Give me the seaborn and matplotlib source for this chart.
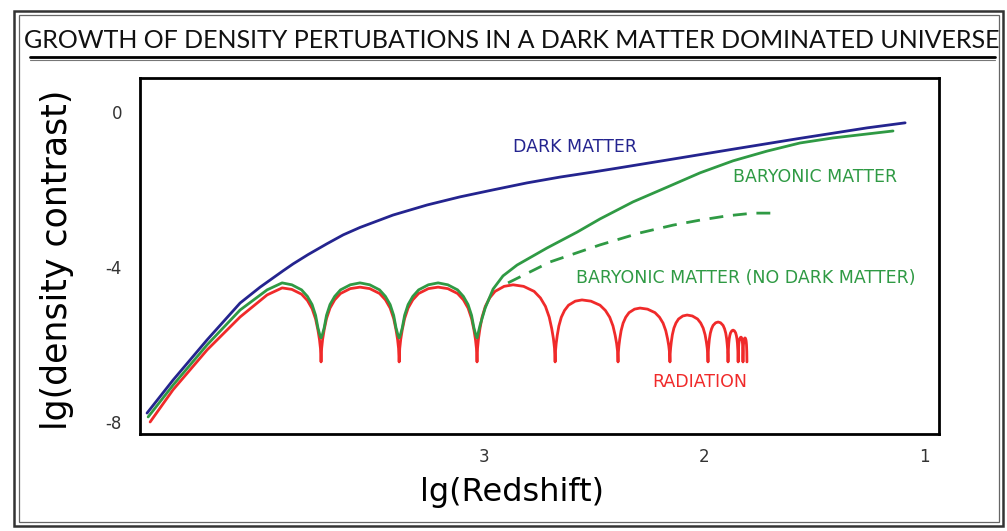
import matplotlib
matplotlib.use("Agg")
import matplotlib.pyplot as plt
import seaborn as sns
from matplotlib.patches import Rectangle
from matplotlib.lines import Line2D

# ---------------- data (x = lg z, y = lg density contrast) -------------
dm_x = [4.532, 4.414, 4.259, 4.109, 4.018, 3.914, 3.868, 3.800, 3.714, 3.640, 3.564, 3.414,
        3.259, 3.109, 2.959, 2.805, 2.655, 2.505, 2.395, 2.168, 1.868, 1.564, 1.259, 1.086]
dm_y = [-7.77, -6.92, -5.88, -4.93, -4.52, -4.10, -3.92, -3.68, -3.40, -3.17, -2.98, -2.66,
        -2.40, -2.19, -2.01, -1.83, -1.68, -1.55, -1.45, -1.24, -0.96, -0.68, -0.41, -0.28]

# radiation: rising branch, then oscillation peaks and cusps
rad_rise_x = [4.518, 4.414, 4.259, 4.109, 3.986]
rad_rise_y = [-8.00, -7.17, -6.14, -5.29, -4.72]
rad_peak_x = [3.918, 3.564, 3.209, 2.868, 2.555, 2.291, 2.077, 1.936, 1.868, 1.832, 1.814]
rad_peak_y = [-4.54, -4.52, -4.52, -4.46, -4.85, -5.06, -5.24, -5.42, -5.63, -5.81, -5.83]
rad_cusp_x = [3.741, 3.386, 3.032, 2.677, 2.391, 2.155, 1.982, 1.891, 1.845, 1.823, 1.805]
rad_cusp_y = -6.45
# arch profile read from the first arch (fraction of half width -> fraction of depth)
rad_arch_f = [0, 0.25, 0.5, 0.65, 0.77, 0.86, 0.92, 0.96, 0.985, 1.0]
rad_arch_d = [0, 0.02, 0.085, 0.17, 0.28, 0.42, 0.57, 0.70, 0.82, 1.0]

# baryonic matter (with dark matter)
bar_rise_x = [4.527, 4.414, 4.259, 4.109, 3.986]
bar_rise_y = [-7.87, -7.05, -6.01, -5.11, -4.59]
bar_peak_x = [3.918, 3.564, 3.209]
bar_peak_y = [-4.41, -4.41, -4.41]
bar_cusp_x = [3.741, 3.386, 3.032]
bar_cusp_y = -5.83
bar_arch_f = [0, 0.25, 0.5, 0.65, 0.77, 0.86, 0.92, 0.97, 1.0]
bar_arch_d = [0, 0.035, 0.127, 0.246, 0.394, 0.59, 0.817, 0.95, 1.0]
bar_tail_x = [3.018, 2.995, 2.959, 2.914, 2.850, 2.714, 2.577, 2.473, 2.323, 2.168, 2.018,
              1.868, 1.714, 1.564, 1.414, 1.141]
bar_tail_y = [-5.50, -5.06, -4.57, -4.23, -3.95, -3.51, -3.10, -2.76, -2.32, -1.94, -1.57,
              -1.26, -1.01, -0.80, -0.67, -0.49]

# baryonic matter without dark matter (dashed)
nodm_x = [2.891, 2.700, 2.473, 2.291, 2.141, 2.018, 1.895, 1.777, 1.677]
nodm_y = [-4.41, -3.87, -3.43, -3.12, -2.92, -2.79, -2.68, -2.61, -2.61]

x_ticks = [3, 2, 1]
x_ticklabels = ["3", "2", "1"]
y_ticks = [0, -4, -8]
y_ticklabels = ["0", "-4", "-8"]

title = "GROWTH OF DENSITY PERTUBATIONS IN A DARK MATTER DOMINATED UNIVERSE"


def arch_chain(rise_x, rise_y, peaks_x, peaks_y, cusps_x, cusp_y, f, d):
    xs, ys = list(rise_x), list(rise_y)
    for i, (pkx, pky) in enumerate(zip(peaks_x, peaks_y)):
        if i > 0:
            cx = cusps_x[i - 1]
            for fi, di in list(zip(f, d))[::-1][1:]:
                xs.append(pkx + (cx - pkx) * fi)
                ys.append(pky - (pky - cusp_y) * di)
        cx = cusps_x[i]
        for fi, di in zip(f, d):
            xs.append(pkx + (cx - pkx) * fi)
            ys.append(pky - (pky - cusp_y) * di)
    return xs, ys


rad_x, rad_y = arch_chain(rad_rise_x, rad_rise_y, rad_peak_x, rad_peak_y,
                          rad_cusp_x, rad_cusp_y, rad_arch_f, rad_arch_d)
bar_x, bar_y = arch_chain(bar_rise_x, bar_rise_y, bar_peak_x, bar_peak_y,
                          bar_cusp_x, bar_cusp_y, bar_arch_f, bar_arch_d)
bar_x += bar_tail_x
bar_y += bar_tail_y

# ---------------- style ----------------
sns.set_theme(style="white")
plt.rcParams["font.family"] = ["DejaVu Sans"]

BLUE = "#24248f"
GREEN = "#2f9a44"
RED = "#f02a2a"

W, H = 1007, 531
fig = plt.figure(figsize=(W / 100, H / 100), dpi=100)
fig.patch.set_facecolor("white")
L, R, T, B = 140, 939, 78, 434
ax = fig.add_axes([L / W, 1 - B / H, (R - L) / W, (B - T) / H])

sns.lineplot(x=rad_x, y=rad_y, ax=ax, color=RED, lw=2.0, sort=False, estimator=None)
sns.lineplot(x=bar_x, y=bar_y, ax=ax, color=GREEN, lw=2.0, sort=False, estimator=None)
sns.lineplot(x=nodm_x, y=nodm_y, ax=ax, color=GREEN, lw=2.0, sort=False, estimator=None,
             linestyle=(0, (5, 3.5)))
sns.lineplot(x=dm_x, y=dm_y, ax=ax, color=BLUE, lw=2.0, sort=False, estimator=None)

ax.set_xlim(4.564, 0.932)
ax.set_ylim(-8.31, 0.877)
ax.set_xticks(x_ticks)
ax.set_xticklabels(x_ticklabels)
ax.set_yticks(y_ticks)
ax.set_yticklabels(y_ticklabels)
ax.tick_params(axis="both", length=0, labelsize=12, labelcolor="#333333")
ax.tick_params(axis="x", pad=10)
ax.tick_params(axis="y", pad=13)
for s in ax.spines.values():
    s.set_visible(True)
    s.set_color("black")
    s.set_linewidth(2.0)
ax.grid(False)

ax.set_xlabel("lg(Redshift)", fontsize=23, color="black")
ax.xaxis.label.set_va("center")
ax.xaxis.set_label_coords((512 - L) / (R - L), (B - 493) / (B - T))
ax.set_ylabel("lg(density contrast)", fontsize=25, color="black")
ax.yaxis.label.set_va("center")
ax.yaxis.set_label_coords((57 - L) / (R - L), (B - 260) / (B - T))

lab_kw = dict(ha="center", va="center", fontsize=12.5)
ax.text(2.586, -0.90, "DARK MATTER", color=BLUE, **lab_kw)
ax.text(1.495, -1.68, "BARYONIC MATTER", color=GREEN, **lab_kw)
ax.text(1.809, -4.28, "BARYONIC MATTER (NO DARK MATTER)", color=GREEN, **lab_kw)
ax.text(2.018, -6.97, "RADIATION", color=RED, **lab_kw)

fig.text(512 / W, 1 - 40 / H, title, ha="center", va="center", fontsize=18,
         family=["Lato", "DejaVu Sans"], color="#111111")
fig.add_artist(Line2D([30 / W, 995 / W], [1 - 56.5 / H] * 2, transform=fig.transFigure,
                      color="black", lw=2.0))
fig.add_artist(Line2D([30 / W, 995 / W], [1 - 59.5 / H] * 2, transform=fig.transFigure,
                      color="#777777", lw=0.8))

fig.add_artist(Rectangle((14 / W, 1 - 526 / H), (1003 - 14) / W, (526 - 11) / H,
                         transform=fig.transFigure, fill=False, ec="#333333", lw=1.8))
fig.add_artist(Rectangle((19 / W, 1 - 522 / H), (999 - 19) / W, (522 - 15) / H,
                         transform=fig.transFigure, fill=False, ec="#666666", lw=0.9))

fig.savefig("out.png", dpi=100, facecolor="white")
